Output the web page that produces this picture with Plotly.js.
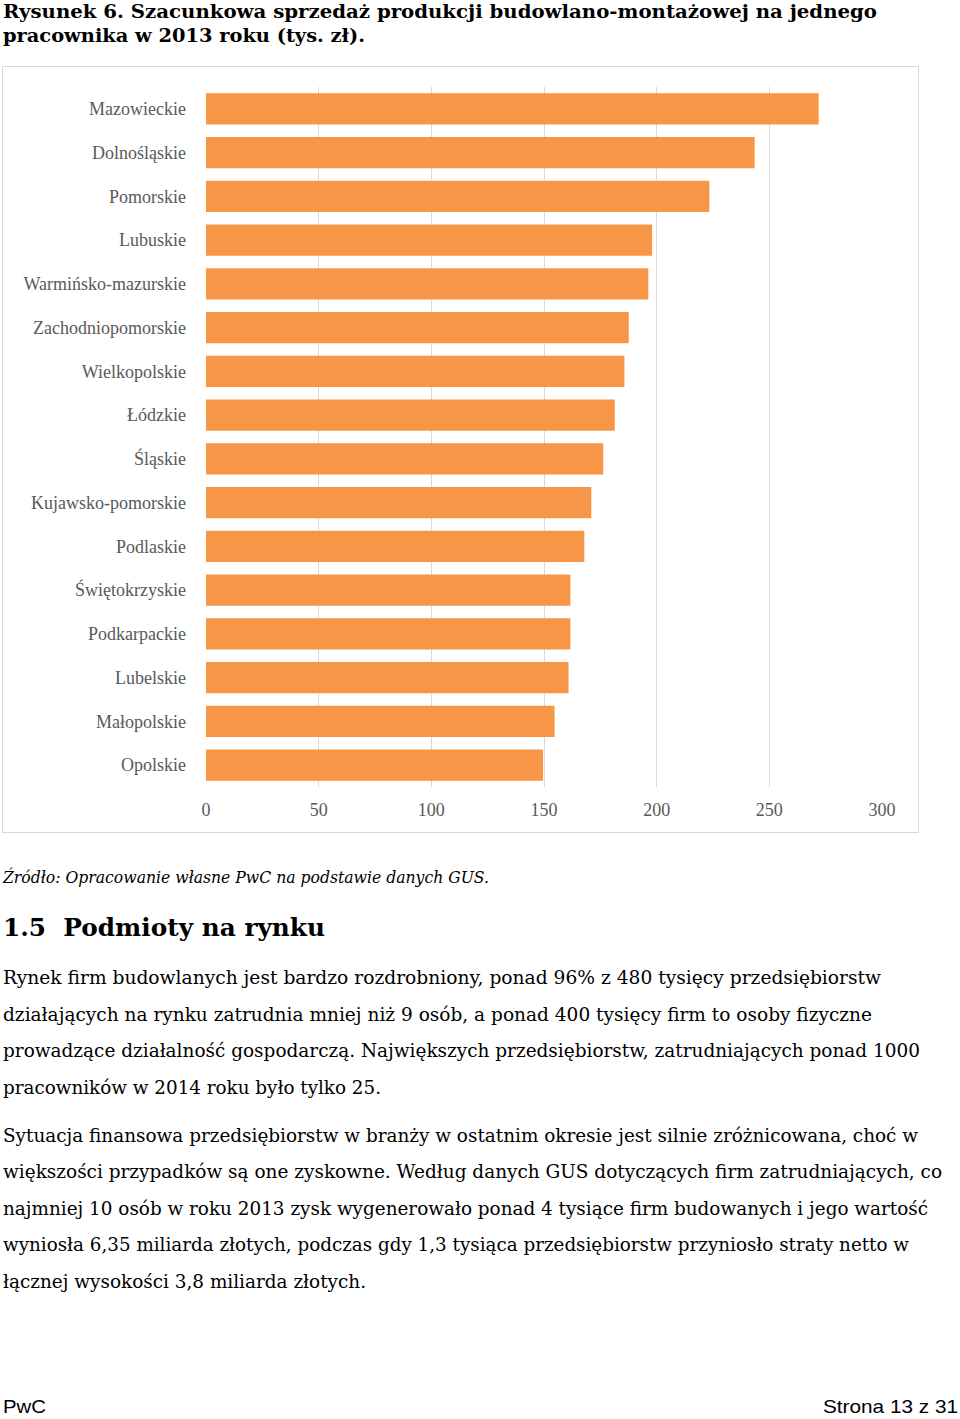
<!DOCTYPE html>
<html>
<head>
<meta charset="utf-8">
<script src="https://cdn.plot.ly/plotly-3.0.1.min.js"></script>
<style>
  html, body { margin:0; padding:0; background:#fff; }
  body { width:960px; height:1419px; position:relative; overflow:hidden; }
  .ln { position:absolute; left:3px; white-space:nowrap; color:#000; transform-origin:0 50%; }
  .title { font-family:"DejaVu Serif", serif; font-weight:bold; font-size:19px; line-height:24px; }
  .src { font-family:"DejaVu Serif", serif; font-style:italic; font-size:16px; line-height:22px; }
  .head { font-family:"DejaVu Serif", serif; font-weight:bold; font-size:25px; line-height:32px; }
  .body { font-family:"DejaVu Serif", serif; font-size:18px; line-height:26px; }
  .foot { font-family:"Liberation Sans", Arial, sans-serif; font-size:19px; line-height:20px; }
  #chartbox { position:absolute; left:2px; top:66px; width:915px; height:765px; border:1px solid #d9d9d9; }
  #chart { width:915px; height:765px; }
</style>
</head>
<body>
<div class="ln title" style="top:-1px" data-w="874">Rysunek 6. Szacunkowa sprzedaż produkcji budowlano-montażowej na jednego</div>
<div class="ln title" style="top:23px" data-w="362">pracownika w 2013 roku (tys. zł).</div>

<div id="chartbox"><div id="chart"></div></div>

<div class="ln src" style="top:867px" data-w="486">Źródło: Opracowanie własne PwC na podstawie danych GUS.</div>
<div class="ln head" style="top:912px" data-w="322">1.5&nbsp;&nbsp;Podmioty na rynku</div>

<div class="ln body" style="top:965px" data-w="878">Rynek firm budowlanych jest bardzo rozdrobniony, ponad 96% z 480 tysięcy przedsiębiorstw</div>
<div class="ln body" style="top:1002px" data-w="869">działających na rynku zatrudnia mniej niż 9 osób, a ponad 400 tysięcy firm to osoby fizyczne</div>
<div class="ln body" style="top:1038px" data-w="917">prowadzące działalność gospodarczą. Największych przedsiębiorstw, zatrudniających ponad 1000</div>
<div class="ln body" style="top:1075px" data-w="378">pracowników w 2014 roku było tylko 25.</div>

<div class="ln body" style="top:1123px" data-w="915">Sytuacja finansowa przedsiębiorstw w branży w ostatnim okresie jest silnie zróżnicowana, choć w</div>
<div class="ln body" style="top:1159px" data-w="939">większości przypadków są one zyskowne. Według danych GUS dotyczących firm zatrudniających, co</div>
<div class="ln body" style="top:1196px" data-w="925">najmniej 10 osób w roku 2013 zysk wygenerowało ponad 4 tysiące firm budowanych i jego wartość</div>
<div class="ln body" style="top:1232px" data-w="906">wyniosła 6,35 miliarda złotych, podczas gdy 1,3 tysiąca przedsiębiorstw przyniosło straty netto w</div>
<div class="ln body" style="top:1269px" data-w="363">łącznej wysokości 3,8 miliarda złotych.</div>

<div class="ln foot" style="top:1397px" data-w="43">PwC</div>
<div class="ln foot" style="top:1397px; left:823px" data-w="135">Strona 13 z 31</div>

<script>
// Data
var regions = ["Mazowieckie","Dolnośląskie","Pomorskie","Lubuskie","Warmińsko-mazurskie",
  "Zachodniopomorskie","Wielkopolskie","Łódzkie","Śląskie","Kujawsko-pomorskie","Podlaskie",
  "Świętokrzyskie","Podkarpackie","Lubelskie","Małopolskie","Opolskie"];
var salesPerWorker = [271.9, 243.5, 223.4, 198.0, 196.3, 187.6, 185.7, 181.4, 176.3, 171.0,
  167.9, 161.7, 161.7, 160.9, 154.7, 149.6];
var xTicks = [0, 50, 100, 150, 200, 250, 300];

// Fit text lines to measured widths
document.querySelectorAll('.ln').forEach(function(el){
  var w = parseFloat(el.getAttribute('data-w'));
  var nat = el.getBoundingClientRect().width;
  if (nat > 0) el.style.transform = 'scaleX(' + (w/nat) + ')';
});

var labFont = {family:'"Liberation Serif", "DejaVu Serif", serif', size:18, color:'#595959'};

Plotly.newPlot('chart', [{
  type:'bar', orientation:'h',
  x: salesPerWorker, y: regions,
  marker:{color:'#f79646'},
  hoverinfo:'x+y'
}], {
  width:915, height:765,
  margin:{l:203, r:36, t:20, b:45},
  paper_bgcolor:'#fff', plot_bgcolor:'#fff',
  bargap:0.29,
  showlegend:false,
  xaxis:{range:[0,300], tickvals:xTicks, ticktext:xTicks.map(String),
    showgrid:true, gridcolor:'#d9d9d9', gridwidth:1, zeroline:false,
    showline:false, ticks:'', tickfont:labFont, ticklabelstandoff:10, fixedrange:true},
  yaxis:{type:'category', categoryorder:'array', categoryarray:regions, autorange:'reversed',
    showgrid:false, zeroline:false, showline:false, ticks:'', tickfont:labFont,
    ticklabelstandoff:19, fixedrange:true}
}, {displayModeBar:false, staticPlot:true});
</script>
</body>
</html>
